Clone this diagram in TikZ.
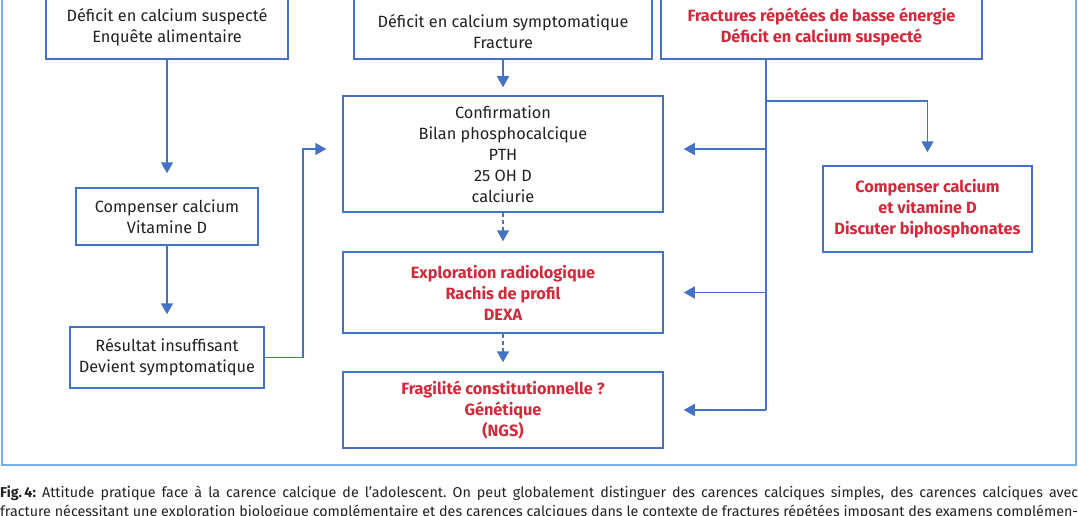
\documentclass[tikz,border=0pt]{standalone}
\usepackage{fontspec}
\setmainfont{Fira Sans}
\usetikzlibrary{arrows.meta,calc}
\definecolor{boxblue}{HTML}{4472C4}
\definecolor{frameblue}{HTML}{78AEE6}
\definecolor{redtxt}{HTML}{D22A3A}
\definecolor{txt}{HTML}{222222}
\frenchspacing
\begin{document}
\begin{tikzpicture}[x=1pt,y=-1pt,
  box/.style={draw=boxblue,line width=1.5pt,align=center,inner sep=0pt,font=\fontsize{16.3}{21}\selectfont,text=txt},
  redbox/.style={box,text=redtxt,font=\fontsize{16.3}{21}\selectfont\bfseries},
  plain/.style={align=center,inner sep=0pt,font=\fontsize{16.3}{21}\selectfont,text=txt},
  arr/.style={draw=boxblue,line width=1.5pt,-{Triangle[length=11pt,width=12pt]}},
  dasharr/.style={arr,dash pattern=on 4pt off 3pt},
  conn/.style={draw=boxblue,line width=1.5pt},
  captxt/.style={anchor=base west,inner sep=0pt,text=txt,font=\fontsize{14.3}{18}\selectfont}]
\clip (0,0) rectangle (1078,516);
\fill[white] (0,0) rectangle (1078,516);
\draw[frameblue,line width=2.5pt] (2,-10) rectangle (1076,465);

% top row
\node[box,minimum width=242pt,minimum height=63pt] (b1) at (167,27.5) {Déficit en calcium suspecté\\Enquête alimentaire};
\node[box,minimum width=298pt,minimum height=66pt] (b2) at (503,26) {};
\node[plain] (b2t) at (503,31.5) {Déficit en calcium symptomatique\\Fracture};
\node[redbox,minimum width=321pt,minimum height=63pt] (b3) at (821.5,27.5) {Fractures répétées de basse énergie\\Déficit en calcium suspecté};

% centre column
\node[box,minimum width=320pt,minimum height=116pt] (conf) at (503,154) {Confirmation\\Bilan phosphocalcique\\PTH\\25 OH D\\calciurie};
\node[redbox,minimum width=320pt,minimum height=81pt] (expl) at (503,292.5) {Exploration radiologique\\Rachis de profil\\DEXA};
\node[redbox,minimum width=320pt,minimum height=76pt] (frag) at (503,410) {Fragilité constitutionnelle ?\\Génétique\\(NGS)};

% left column
\node[box,minimum width=182pt,minimum height=57pt] (c1) at (167,216.5) {Compenser calcium\\Vitamine D};
\node[box,minimum width=194pt,minimum height=61pt] (res) at (167,357.5) {Résultat insuffisant\\Devient symptomatique};

% right box
\node[redbox,minimum width=209pt,minimum height=86pt] (c2) at (927.5,209) {Compenser calcium\\et vitamine D\\Discuter biphosphonates};

% connectors
\draw[arr,shorten >=14pt] (b1.south) -- (c1.north);
\draw[arr,shorten >=12pt] (c1.south) -- (res.north);
\coordinate (j1) at (303,149);
\draw[arr,shorten >=16pt] (res.east) -| (j1) -- (j1 -| conf.west);
\draw[arr,shorten >=8pt] (b2.south) -- (conf.north);
\draw[dasharr,shorten >=10pt] (conf.south) -- (expl.north);
\draw[dasharr,shorten >=9pt] (expl.south) -- (frag.north);

\coordinate (r0) at (766,59);
\coordinate (r1) at (766,101);
\coordinate (r2) at (766,149);
\coordinate (r3) at (766,292.5);
\coordinate (r4) at (766,410);
\draw[conn] (r0) -- (r4);
\draw[arr,shorten >=13pt] (r1) -| (c2.north);
\draw[arr,shorten >=20pt] (r2) -- (r2 -| conf.east);
\draw[arr,shorten >=20pt] (r3) -- (r3 -| expl.east);
\draw[arr,shorten >=20pt] (r4) -- (r4 -| frag.east);

% caption
\node[captxt] (cap1) at (0,497.5) {\makebox[1078pt][s]{\textbf{Fig.\,4:} Attitude pratique face à la carence calcique de l’adolescent. On peut globalement distinguer des carences calciques simples, des carences calciques avec}};
\node[captxt] (cap2) at (0,516.5) {\makebox[1078pt][s]{fracture nécessitant une exploration biologique complémentaire et des carences calciques dans le contexte de fractures répétées imposant des examens complémen-}};
\end{tikzpicture}
\end{document}
